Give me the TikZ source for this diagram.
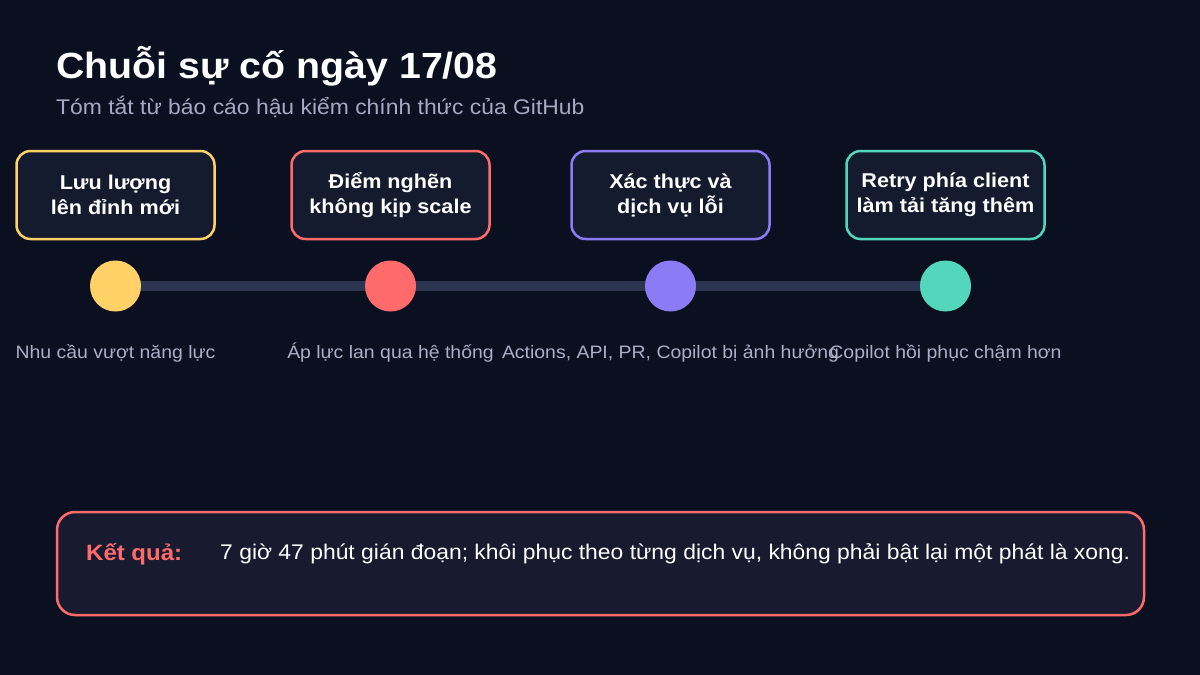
\documentclass[tikz,border=0pt]{standalone}
\usepackage{fontspec}
\setmainfont{Liberation Sans}[FakeStretch=1.08]
\definecolor{bg}{HTML}{0B1020}
\definecolor{boxfill}{HTML}{141B2F}
\definecolor{resfill}{HTML}{181B2F}
\definecolor{cyel}{HTML}{FFD166}
\definecolor{cred}{HTML}{FF6B6B}
\definecolor{cpur}{HTML}{8B7CF6}
\definecolor{cteal}{HTML}{52D6BC}
\definecolor{trackc}{HTML}{2C3550}
\definecolor{subc}{HTML}{A3ABC4}
\definecolor{labc}{HTML}{A8B0C8}
\begin{document}
\begin{tikzpicture}[x=1pt,y=-1pt,
  stagebox/.style={draw=#1,line width=2.5pt,fill=boxfill,rounded corners=14pt,
    minimum width=198pt,minimum height=88pt,align=center,text=white,
    font=\bfseries\fontsize{20}{25}\selectfont,inner sep=0pt},
  dot/.style={circle,fill=#1,minimum size=51pt,inner sep=0pt},
  sublabel/.style={anchor=base,text=labc,font=\fontsize{18}{22}\selectfont,inner sep=0pt},
  track/.style={draw=trackc,line width=10pt}]
\useasboundingbox (0,0) rectangle (1200,675);
\fill[bg] (0,0) rectangle (1200,675);
% title
\node[anchor=base west,inner sep=0pt,text=white,font=\bfseries\fontsize{36.4}{43}\selectfont] (title) at (56,78) {Chuỗi sự cố ngày 17/08};
\node[anchor=base west,inner sep=0pt,text=subc,font=\fontsize{21.2}{25}\selectfont] (subtitle) at (56,114.5) {Tóm tắt từ báo cáo hậu kiểm chính thức của GitHub};
% boxes
\node[stagebox=cyel] (b1) at (115.5,195) {Lưu lượng\\lên đỉnh mới};
\node[stagebox=cred] (b2) at (390.5,195) {Điểm nghẽn\\không kịp scale};
\node[stagebox=cpur] (b3) at (670.5,195) {Xác thực và\\dịch vụ lỗi};
\node[stagebox=cteal] (b4) at (945.5,195) {Retry phía client\\làm tải tăng thêm};
% timeline
\coordinate (t1) at (115.5,286);
\coordinate (t4) at (945.5,286);
\draw[track] (t1) -- (t4);
\node[dot=cyel] (d1) at (115.5,286) {};
\node[dot=cred] (d2) at (390.5,286) {};
\node[dot=cpur] (d3) at (670.5,286) {};
\node[dot=cteal] (d4) at (945.5,286) {};
% labels
\node[sublabel] (l1) at (115.5,358) {Nhu cầu vượt năng lực};
\node[sublabel] (l2) at (390.5,358) {Áp lực lan qua hệ thống};
\node[sublabel] (l3) at (670.5,358) {Actions, API, PR, Copilot bị ảnh hưởng};
\node[sublabel] (l4) at (945.5,358) {Copilot hồi phục chậm hơn};
% result
\draw[draw=cred,line width=2.5pt,fill=resfill,rounded corners=18pt] (57,512) rectangle (1144,615);
\node[anchor=base west,inner sep=0pt,text=cred,font=\bfseries\fontsize{22.2}{26}\selectfont] (rk) at (86,560) {Kết quả:};
\node[anchor=base west,inner sep=0pt,text=white,font=\fontsize{21.2}{26}\selectfont] (rt) at (220,559) {7 giờ 47 phút gián đoạn; khôi phục theo từng dịch vụ, không phải bật lại một phát là xong.};
\end{tikzpicture}
\end{document}
